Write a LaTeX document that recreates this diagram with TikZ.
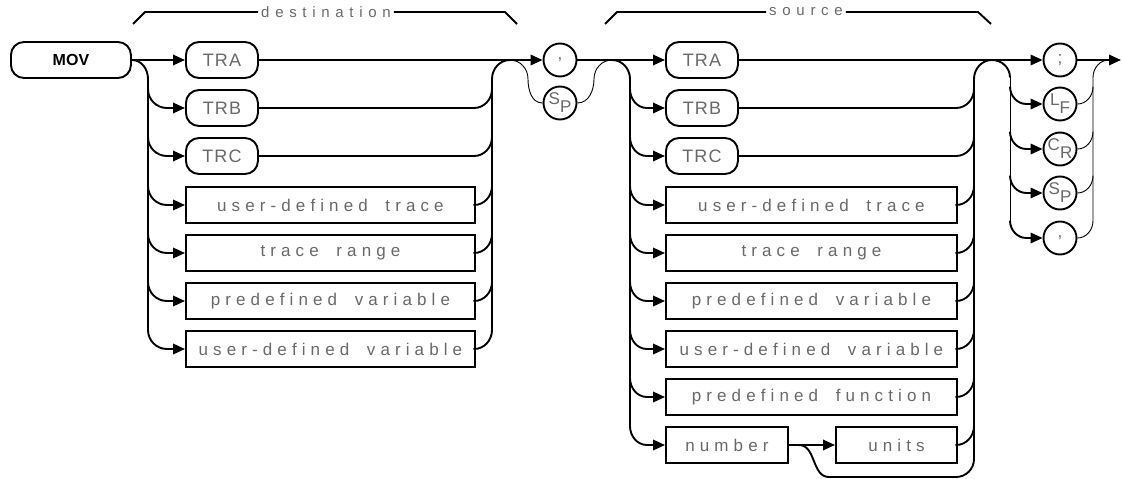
\documentclass[tikz,border=0pt]{standalone}
\usepackage{fontspec}
\setmainfont{Liberation Sans}
\newfontfamily\plotfont[LetterSpace=30,WordSpace=1.8]{Liberation Sans}
\newfontfamily\capfont[LetterSpace=38]{Liberation Sans}
\newfontfamily\kwfont[LetterSpace=6]{Liberation Sans}
\usetikzlibrary{arrows.meta,calc}
\definecolor{hpgray}{RGB}{105,105,105}
\tikzset{
  rail/.style={line width=1.9pt, line join=round},
  thinrail/.style={line width=0.9pt},
  toarr/.style={rail, -{Triangle[length=12pt,width=10.5pt]}},
  kwd/.style={draw, line width=1.9pt, rounded corners=13pt, minimum width=72pt,
              minimum height=36pt, inner sep=0pt, anchor=west, text=hpgray,
              font=\kwfont\fontsize{18}{18}\selectfont},
  fld/.style={draw, line width=1.9pt, minimum height=36pt, inner sep=0pt,
              anchor=west, text=hpgray, font=\plotfont\fontsize{17}{17}\selectfont},
  chr/.style={draw, circle, line width=1.9pt, minimum size=33pt, inner sep=0pt,
              text=hpgray, font=\kwfont\fontsize{17}{17}\selectfont},
  grouplbl/.style={text=hpgray, inner sep=3pt, font=\capfont\fontsize{15}{15}\selectfont},
}
\newcommand{\lohi}[2]{\raisebox{3pt}{#1}\raisebox{-5pt}{#2}}

\begin{document}
\begin{tikzpicture}[x=1pt,y=-1pt]
  \useasboundingbox (0,0) rectangle (1122,479);
  % rails
  \coordinate (dL) at (148,0);
  \coordinate (dR) at (492,0);
  \coordinate (sL) at (630,0);
  \coordinate (sR) at (974,0);
  \coordinate (tL) at (1010,0);
  \coordinate (tR) at (1093,0);
  \coordinate (fin) at (1121,60);

  \node[kwd, minimum width=120pt, text=black, font=\bfseries\fontsize{16}{16}\selectfont] (mov) at (10,60) {MOV};

  % destination
  \node[grouplbl] (dcap) at (326,12) {destination};
  \draw[rail] (133,24) -- (145,12) -- (dcap.west);
  \draw[rail] (dcap.east) -- (505,12) -- (517,24);
  \node[kwd] (d1) at (185,60) {TRA};
  \node[kwd] (d2) at (185,108) {TRB};
  \node[kwd] (d3) at (185,156) {TRC};
  \node[fld, minimum width=289pt] (d4) at (185,205) {user-defined trace};
  \node[fld, minimum width=289pt] (d5) at (185,253) {trace range};
  \node[fld, minimum width=289pt] (d6) at (185,301) {predefined variable};
  \node[fld, minimum width=289pt] (d7) at (185,349) {user-defined variable};

  % separator
  \node[chr] (cm) at (560,60) {,};
  \node[chr] (sp1) at (560,103) {\lohi{S}{P}};

  % source
  \node[grouplbl] (scap) at (806,12) {source};
  \draw[rail] (605,24) -- (617,12) -- (scap.west);
  \draw[rail] (scap.east) -- (978,12) -- (991,24);
  \node[kwd] (s1) at (665,60) {TRA};
  \node[kwd] (s2) at (665,108) {TRB};
  \node[kwd] (s3) at (665,156) {TRC};
  \node[fld, minimum width=291pt] (s4) at (665,205) {user-defined trace};
  \node[fld, minimum width=291pt] (s5) at (665,253) {trace range};
  \node[fld, minimum width=291pt] (s6) at (665,301) {predefined variable};
  \node[fld, minimum width=291pt] (s7) at (665,349) {user-defined variable};
  \node[fld, minimum width=291pt] (s8) at (665,397) {predefined function};
  \node[fld, minimum width=122pt] (s9) at (665,445) {number};
  \node[fld, minimum width=121pt] (su) at (835,445) {units};

  % terminators
  \node[chr] (t1) at (1060,60) {;};
  \node[chr] (t2) at (1060,104) {\lohi{L}{F}};
  \node[chr] (t3) at (1060,149) {\lohi{C}{R}};
  \node[chr] (t4) at (1060,193) {\lohi{S}{P}};
  \node[chr] (t5) at (1060,238) {,};

  % main line
  \draw[toarr] (mov.east) -- (d1.west);
  \draw[toarr] (d1.east) -- (cm.west);
  \draw[toarr] (cm.east) -- (s1.west);
  \draw[toarr] (s1.east) -- (t1.west);
  \draw[toarr] (t1.east) -- (fin);

  % destination branches
  \draw[rail] (mov.east) to[out=0,in=90] (dL |- d1.south) -- (dL |- d7.north);
  \foreach \i in {2,...,7}{
    \draw[toarr] (dL |- d\i.north) to[out=-90,in=180] ($(d\i.west)+(-18,0)$) -- (d\i.west);
    \draw[rail] (d\i.east) -- ($(dR |- d\i)+(-18,0)$) to[out=0,in=-90] (dR |- d\i.north);
  }
  \draw[rail] (dR |- d7.north) -- (dR |- d1.south) to[out=90,in=180] ($(dR |- d1)+(18,0)$);

  % space instead of comma
  \draw[thinrail] ($(dR |- d1)+(18,0)$) to[out=0,in=90] ($(dR |- d1.south)+(36,0)$)
    to[out=-90,in=180] (sp1.west);
  \draw[thinrail] (sp1.east) to[out=0,in=-90] ($(sL |- d1.south)+(-36,0)$)
    to[out=90,in=180] ($(sL |- s1)+(-18,0)$);

  % source branches
  \draw[rail] ($(sL |- s1)+(-18,0)$) to[out=0,in=90] (sL |- s1.south) -- (sL |- s9.north);
  \foreach \i in {2,...,9}{
    \draw[toarr] (sL |- s\i.north) to[out=-90,in=180] ($(s\i.west)+(-18,0)$) -- (s\i.west);
  }
  \foreach \n in {s2,s3,s4,s5,s6,s7,s8,su}{
    \draw[rail] (\n.east) -- ($(sR |- \n)+(-18,0)$) to[out=0,in=-90] (sR |- \n.north);
  }
  \draw[toarr] (s9.east) -- (su.west);
  \draw[rail] ($(s9.east)+(10,0)$) to[out=0,in=180] ($(s9.east)+(40,32)$)
    -- ($(sR |- s9)+(-18,32)$) to[out=0,in=-90] ($(sR |- s9)+(0,14)$);
  \draw[rail] ($(sR |- s9)+(0,14)$) -- (sR |- s1.south) to[out=90,in=180] ($(sR |- s1)+(18,0)$);

  % terminator branches
  \draw[rail] ($(sR |- s1)+(18,0)$) to[out=0,in=90] (tL |- t1.south);
  \draw[thinrail] (tL |- t1.south) -- (tL |- t5.north);
  \foreach \i in {2,...,5}{
    \draw[toarr] (tL |- t\i.north) to[out=-90,in=180] ($(t\i.west)+(-16,0)$) -- (t\i.west);
    \draw[thinrail] (t\i.east) to[out=0,in=-90] (tR |- t\i.north);
  }
  \draw[thinrail] (tR |- t5.north) -- (tR |- t1.south) to[out=90,in=180] ($(tR |- t1)+(16,0)$);
\end{tikzpicture}
\end{document}
